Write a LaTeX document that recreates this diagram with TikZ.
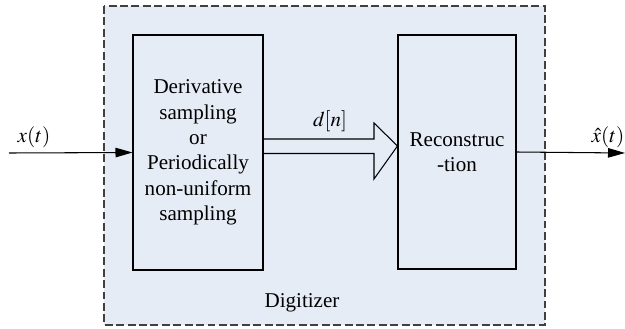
\documentclass[tikz,border=0pt]{standalone}
\usepackage{mathptmx}
\usepackage[no-math]{fontspec}
\setmainfont{Liberation Serif}
\usetikzlibrary{arrows.meta,calc}
\definecolor{digibg}{RGB}{230,236,246}
\tikzset{
  block/.style={draw, line width=0.6pt, align=center, font=\fontsize{12}{14.4}\selectfont},
  sig/.style={line width=0.6pt, -{Triangle[length=0.34cm,width=0.19cm]}},
  lbl/.style={font=\fontsize{12}{14.4}\selectfont}
}
\begin{document}
\begin{tikzpicture}[x=0.02cm,y=-0.02cm]
  \useasboundingbox (0,0) rectangle (625,328);
  % digitizer frame
  \draw[fill=digibg, draw=black!75, line width=0.6pt, dash pattern=on 4.5pt off 2pt] (104,6) rectangle (545,325);
  \node[lbl] (digi) at (302,303) {Digitizer};
  % the two stages
  \node[block, minimum width=2.6cm, minimum height=4.7cm] (samp) at (198,152.5)
    {Derivative\\sampling\\or\\Periodically\\non-uniform\\sampling};
  \node[block, minimum width=2.36cm, minimum height=4.68cm] (recon) at (457,152)
    {Reconstruc\\-tion};
  % input and output
  \coordinate (xin) at (9,153);
  \coordinate (xout) at (625,153);
  \draw[sig] (xin) -- (samp.west);
  \draw[sig] (recon.east) -- (xout);
  \node[lbl] (xlab) at (34,137) {$x(t)$};
  \node[lbl] (xhat) at (608,137) {$\hat{x}(t)$};
  % hollow arrow carrying d[n]
  \draw[line width=0.6pt] ($(samp.east)+(0,-13.5)$) -- (374,139) -- (374,123)
    -- ($(recon.west)+(0,-6)$) -- (374,179) -- (374,153.5) -- ($(samp.east)+(0,1)$);
  \node[lbl] (dn) at (330,121) {$d[n]$};
\end{tikzpicture}
\end{document}
